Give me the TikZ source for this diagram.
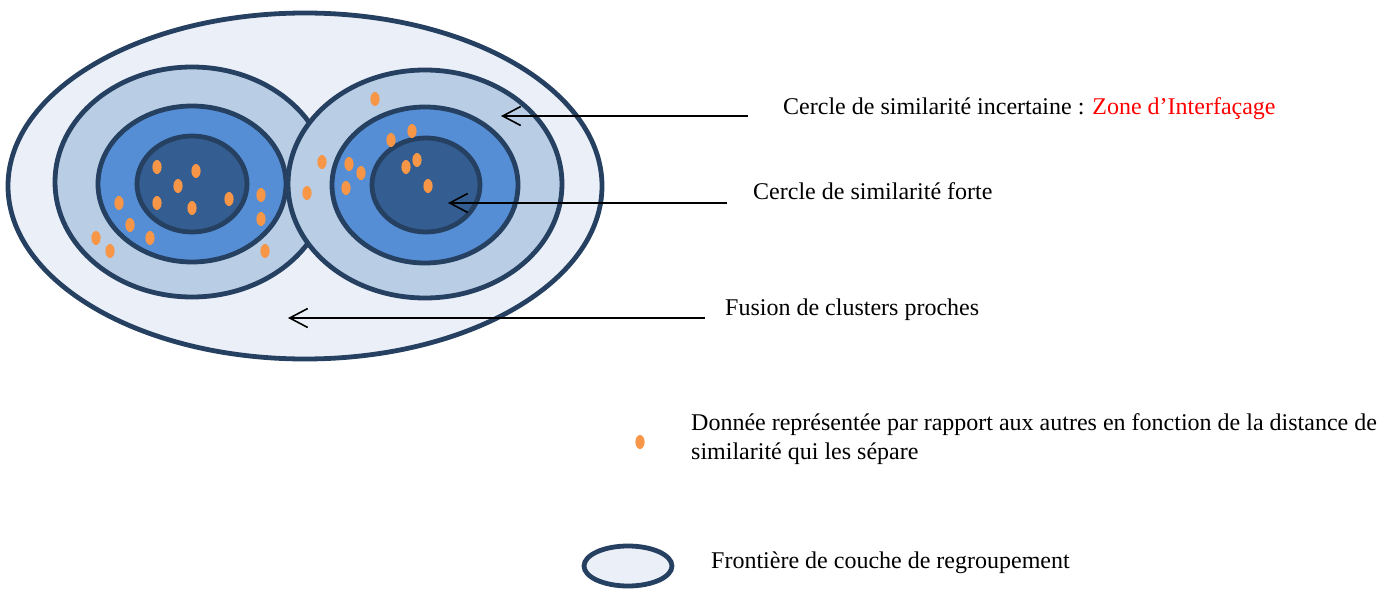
\documentclass[tikz,border=0pt]{standalone}
\usepackage{fontspec}
\setmainfont{Liberation Serif}
\usepackage{xcolor}
\usetikzlibrary{arrows.meta,positioning}
\definecolor{ringnavy}{RGB}{37,64,97}
\definecolor{fusionbg}{RGB}{235,240,248}
\definecolor{uncertainbg}{RGB}{185,205,229}
\definecolor{midbg}{RGB}{85,142,213}
\definecolor{strongbg}{RGB}{52,94,145}
\definecolor{datadot}{RGB}{247,150,70}
\definecolor{zonered}{RGB}{255,0,0}

\tikzset{
  ring/.style={draw=ringnavy, line width=4.8pt},
  datum/.style={fill=datadot, draw=none},
  pointer/.style={-{Straight Barb[length=18pt,width=19pt,line width=1.6pt]}, line width=1.6pt},
  caption/.style={anchor=base west, inner sep=0pt, font=\fontsize{24}{28}\selectfont},
}

\begin{document}
\begin{tikzpicture}[x=1pt,y=-1pt]
    \useasboundingbox (0,0) rectangle (1395,591);
    % Fusion zone
    \draw[ring, fill=fusionbg] (305,186) ellipse [x radius=297, y radius=173];
    % Left cluster
    \draw[ring, fill=uncertainbg] (192,182) ellipse [x radius=137, y radius=115];
    \draw[ring, fill=midbg] (192,184) ellipse [x radius=94, y radius=78];
    \draw[ring, fill=strongbg] (192,184) ellipse [x radius=55, y radius=48];
    \foreach \px/\py in {157/167, 196/171, 178/186, 157/203, 192/208, 229/199, 261/195,
                         261/219, 119/203, 130/225, 150/238, 96/238, 110/251, 265/251}
        \fill[datum] (\px,\py) ellipse [x radius=4.6, y radius=7];
    % Right cluster
    \draw[ring, fill=uncertainbg] (425,184) ellipse [x radius=137, y radius=114];
    \draw[ring, fill=midbg] (425,185) ellipse [x radius=93, y radius=78];
    \draw[ring, fill=strongbg] (426,185) ellipse [x radius=54, y radius=47];
    \foreach \px/\py in {375/99, 412/131, 391/140, 417/160, 406/167, 428/186,
                         322/162, 349/164, 361/173, 346/188, 307/193}
        \fill[datum] (\px,\py) ellipse [x radius=4.6, y radius=7];
    % Labels
    \node[caption] (uncertain) at (783,115) {Cercle de similarité incertaine : \textcolor{zonered}{Zone d’Interfaçage}};
    \node[caption] (strong) at (753,199) {Cercle de similarité forte};
    \node[caption] (fusion) at (725,315) {Fusion de clusters proches};
    % Pointers
    \coordinate (uncertaintail) at (748,116);
    \coordinate (uncertaintip) at (501,116);
    \coordinate (strongtail) at (727,203);
    \coordinate (strongtip) at (448,203);
    \coordinate (fusiontail) at (705,318);
    \coordinate (fusiontip) at (288,318);
    \draw[pointer] (uncertaintail) -- (uncertaintip);
    \draw[pointer] (strongtail) -- (strongtip);
    \draw[pointer] (fusiontail) -- (fusiontip);
    % Legend
    \fill[datum] (640,442) ellipse [x radius=4.6, y radius=7];
    \node[caption] (datumtext) at (691,430) {Donnée représentée par rapport aux autres en fonction de la distance de};
    \node[caption] (datumtextb) at (691,459) {similarité qui les sépare};
    \draw[ring, fill=fusionbg] (628,566) ellipse [x radius=44, y radius=20];
    \node[caption] (ringtext) at (711,568) {Frontière de couche de regroupement};
\end{tikzpicture}
\end{document}
